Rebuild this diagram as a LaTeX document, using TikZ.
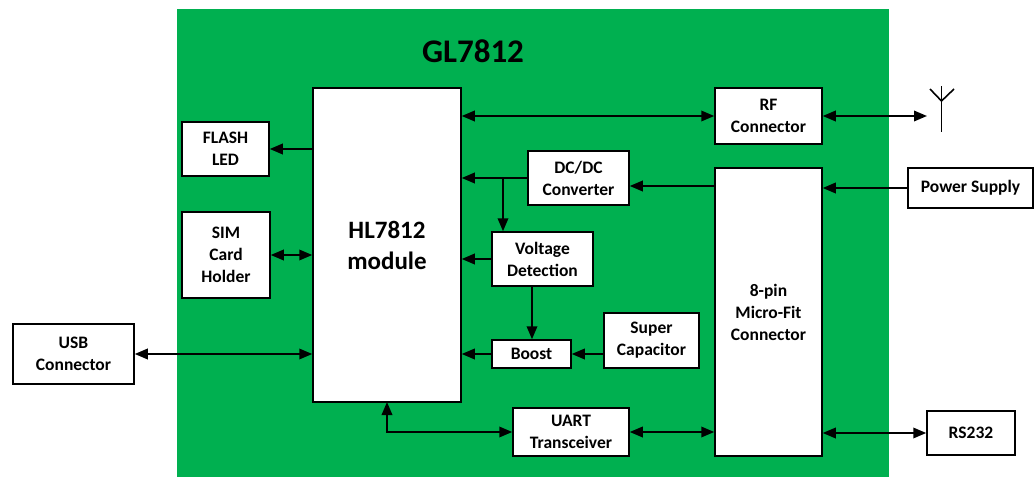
\documentclass[tikz,border=0pt]{standalone}
\usepackage{fontspec}
\setmainfont{Carlito}
\usetikzlibrary{arrows.meta,calc}
\definecolor{boardgreen}{RGB}{0,176,80}
\tikzset{
  x=1pt,y=-1pt,
  blk/.style={draw=black,fill=white,line width=1.5pt,align=center,font=\bfseries\fontsize{17.5}{22}\selectfont,inner sep=0pt,text=black},
  conn/.style={line width=1.8pt,draw=black},
  one/.style={conn,-{Triangle[length=13pt,width=10.5pt]}},
  two/.style={conn,{Triangle[length=13pt,width=10.5pt]}-{Triangle[length=13pt,width=10.5pt]}},
}
\newcommand{\blkat}[6]{% name, x0, y0, x1, y1, text
  \node[blk,minimum width={(#4-#2)*1pt},minimum height={(#5-#3)*1pt}] (#1) at ({(#2+#4)/2},{(#3+#5)/2}) {#6};}
\begin{document}
\begin{tikzpicture}
\useasboundingbox (0,0) rectangle (1034,477);
\fill[boardgreen] (177,9) rectangle (889,477);
\node[font=\bfseries\fontsize{33}{36}\selectfont,text=black] (title) at (473,51) {GL7812};
\blkat{hl}{313}{88}{461}{402}{\fontsize{25}{25}\selectfont HL7812\\[9pt]\fontsize{25}{25}\selectfont module}
\blkat{flash}{182}{122}{269}{176}{FLASH\\LED}
\blkat{sim}{182}{212}{270}{298}{SIM\\Card\\Holder}
\blkat{usb}{13}{324}{134}{384}{USB\\Connector}
\blkat{rf}{715}{88}{822}{144}{RF\\Connector}
\blkat{dc}{528}{151}{629}{205}{DC/DC\\Converter}
\blkat{mf}{715}{168}{822}{456}{8-pin\\Micro-Fit\\Connector}
\blkat{ps}{908}{168}{1033}{208}{Power Supply}
\blkat{vd}{492}{232}{593}{286}{Voltage\\Detection}
\blkat{boost}{492}{340}{571}{368}{Boost}
\blkat{sc}{604}{313}{699}{368}{Super\\Capacitor}
\blkat{uart}{513}{408}{629}{456}{UART\\Transceiver}
\blkat{rs}{927}{411}{1015}{455}{RS232}
% connectors
\draw[two] (hl.east |- rf.west) -- (rf.west);
\draw[one] (hl.west |- flash.east) -- (flash.east);
\draw[two] (sim.east) -- (hl.west |- sim.east);
\draw[two] (usb.east) -- (hl.west |- usb.east);
\draw[one] (dc.west) -- (hl.east |- dc.west);
\coordinate (dcin) at (mf.west |- 0,186);
\draw[one] (dcin) -- (dc.east |- dcin);
\coordinate (tap) at (503,178);
\draw[one] (tap) -- (tap |- vd.north);
\draw[one] (vd.west) -- (hl.east |- vd.west);
\draw[one] (boost.west) -- (hl.east |- boost.west);
\coordinate (vddown) at (532,286);
\draw[one] (vddown) -- (vddown |- boost.north);
\draw[one] (sc.west |- boost.east) -- (boost.east);
\draw[one] (ps.west) -- (mf.east |- ps.west);
\draw[two] (uart.east) -- (mf.west |- uart.east);
\draw[two] (mf.east |- rs.west) -- (rs.west);
\coordinate (hlb) at (387,402);
\draw[two] (hlb) |- (uart.west);
% antenna
\coordinate (mastt) at (941.5,86);
\coordinate (mastb) at (941.5,132);
\coordinate (fork) at (941.5,101);
\coordinate (forkl) at (930,89);
\coordinate (forkr) at (954,89);
\draw[line width=1.6pt] (mastt) -- (mastb);
\draw[line width=1.6pt] (forkl) -- (fork) -- (forkr);
\coordinate (ante) at (927,116);
\draw[two] (rf.east) -- (ante);
\end{tikzpicture}
\end{document}
